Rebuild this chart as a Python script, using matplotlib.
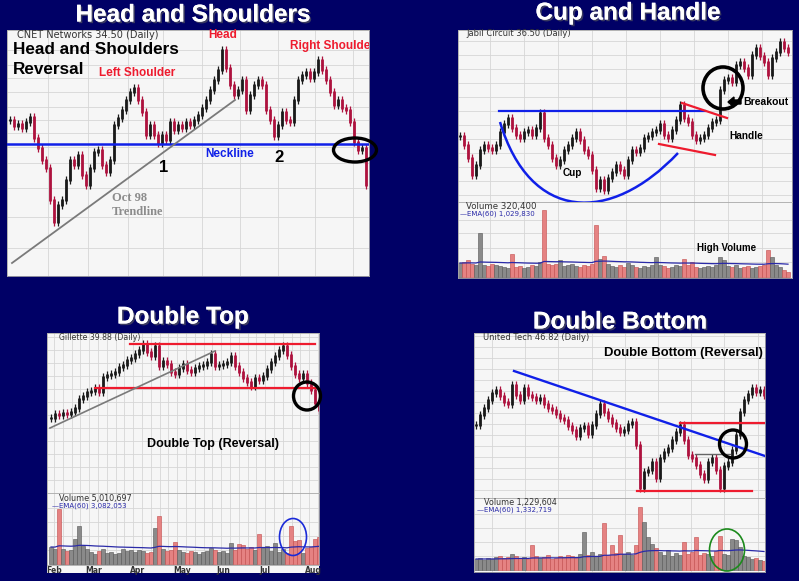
#!/usr/bin/env python3

"""
Four classic chart patterns on one navy slide:
head and shoulders, cup and handle, double top, double bottom.
Closes are price levels read off the stockcharts pictures, volume as bar heights.
"""

import numpy as np
import pandas as pd
import matplotlib
matplotlib.use("Agg")
import matplotlib.pyplot as plt
import matplotlib.patheffects as pe
from matplotlib.patches import Ellipse, PathPatch, FancyArrow, Rectangle
from matplotlib.path import Path

# ---------------- data ----------------
# Head and Shoulders (CNET)
hs_close = [160, 154, 156, 152, 158, 163, 142, 132, 120, 112,
            80, 58, 75, 80, 100, 120, 115, 125, 105, 95,
            112, 128, 130, 115, 108, 120, 155, 162, 170, 180,
            188, 192, 180, 168, 145, 155, 145, 137, 145, 140,
            158, 150, 155, 152, 158, 155, 160, 165, 172, 180,
            190, 200, 210, 230, 212, 195, 185, 190, 200, 170,
            185, 195, 200, 195, 170, 160, 144, 155, 168, 160,
            158, 180, 200, 205, 208, 202, 208, 220, 210, 200,
            188, 175, 180, 172, 170, 158, 138, 130, 132, 95]

# Cup and Handle (Jabil Circuit)
cup_close = [144, 135, 122, 105, 115, 130, 135, 132, 130, 135,
             148, 156, 162, 152, 145, 142, 148, 150, 145, 152,
             167, 142, 135, 122, 115, 120, 130, 135, 142, 148,
             140, 130, 125, 110, 92, 100, 90, 102, 108, 115,
             110, 105, 120, 130, 128, 132, 142, 144, 148, 150,
             156, 145, 142, 150, 160, 175, 162, 158, 145, 140,
             142, 145, 152, 158, 160, 190, 200, 202, 198, 215,
             218, 212, 205, 225, 232, 224, 218, 205, 222, 228,
             238, 232, 228]
cup_volume = [14, 15, 17, 13, 12, 44, 12, 11, 13, 12,
              11, 10, 9, 23, 10, 11, 9, 10, 12, 11,
              15, 67, 13, 12, 13, 17, 11, 12, 13, 11,
              10, 12, 11, 13, 52, 18, 21, 13, 11, 10,
              12, 10, 14, 12, 10, 9, 11, 10, 12, 20,
              12, 11, 9, 10, 12, 11, 18, 12, 15, 10,
              9, 10, 11, 10, 12, 20, 17, 11, 10, 12,
              9, 10, 11, 9, 10, 11, 12, 27, 20, 12,
              10, 7, 5]

# Double Top (Gillette)
dt_close = [162, 166, 165, 167, 166, 168, 172, 181, 184, 188,
            189, 192, 188, 203, 205, 206, 208, 213, 215, 220,
            222, 226, 230, 236, 228, 224, 234, 214, 219, 216,
            208, 206, 212, 216, 210, 208, 212, 214, 215, 218,
            226, 214, 215, 216, 218, 224, 214, 208, 202, 198,
            194, 202, 200, 204, 211, 218, 224, 230, 234, 225,
            214, 206, 202, 206, 197, 190, 177, 170]
dt_volume = [17, 15, 55, 15, 13, 14, 25, 38, 18, 15,
             12, 10, 13, 15, 11, 12, 10, 11, 15, 13,
             14, 12, 14, 13, 11, 12, 36, 48, 15, 13,
             14, 22, 14, 12, 11, 13, 12, 10, 12, 13,
             16, 14, 12, 13, 11, 21, 14, 20, 19, 15,
             17, 14, 30, 16, 18, 13, 21, 12, 15, 11,
             38, 23, 24, 11, 16, 17, 25, 27]
dt_months = ['Feb', 'Mar', 'Apr', 'May', 'Jun', 'Jul', 'Aug']
dt_month_pos = [0.75, 10.75, 21.75, 32.75, 43, 53.5, 65.5]

# Double Bottom (United Tech)
db_close = [155, 165, 172, 180, 187, 190, 184, 178, 176, 195,
            185, 180, 192, 185, 183, 180, 182, 176, 172, 170,
            166, 162, 160, 154, 150, 144, 152, 154, 146, 155,
            166, 176, 168, 162, 157, 152, 148, 150, 156, 158,
            135, 92, 108, 110, 118, 102, 122, 128, 132, 140,
            148, 155, 140, 125, 122, 115, 106, 101, 118, 122,
            110, 92, 114, 118, 130, 145, 168, 180, 186, 192,
            188, 190, 185]
db_volume = [11, 12, 10, 12, 11, 13, 14, 12, 13, 16,
             14, 12, 13, 11, 25, 14, 12, 13, 15, 11,
             12, 14, 13, 15, 14, 12, 16, 38, 15, 18,
             14, 16, 47, 15, 25, 17, 35, 16, 18, 15,
             25, 63, 48, 33, 26, 22, 18, 15, 20, 14,
             17, 15, 28, 16, 18, 33, 15, 17, 16, 14,
             19, 34, 16, 15, 31, 30, 23, 14, 13, 11,
             12, 10, 9]

# pattern lines, (bar index, level)
hs_neckline = 136
hs_trend_x, hs_trend_y = [0.5, 56.25], [17, 180]
cup_rim_x, cup_rim_y = [9.75, 61.25], [169, 169]
cup_curve_x, cup_curve_y = [10, 17.5, 37.5, 54.5], [158, 58, 55, 127]
handle_top_x, handle_top_y = [55.5, 66.75], [177, 162]
handle_bot_x, handle_bot_y = [49.75, 63.75], [136, 125]
dt_top_x, dt_top_y = [19.75, 66], [236, 236]
dt_sup_x, dt_sup_y = [11, 66.25], [192, 192]
dt_trend_x, dt_trend_y = [-0.25, 41], [152, 229]
db_trend_x, db_trend_y = [9.5, 72.25], [209, 124]
db_res_x, db_res_y = [51, 72.25], [157, 157]
db_sup_x, db_sup_y = [40.25, 69], [89, 89]
db_mid_x, db_mid_y = [54.75, 63.5], [126, 126]

# ---------------- style ----------------
W, H = 799, 581
NAVY = '#000066'
PANEL = '#F6F6F6'
GRID = '#D6D6D6'
UP, DOWN = '#1a1a1a', '#AE123E'
RED = '#EE1B2E'
BLUE = '#1020E8'
SANS = 'Liberation Sans'

fig = plt.figure(figsize=(W / 100, H / 100), dpi=100)
fig.patch.set_facecolor(NAVY)


def box(x0, y0, x1, y1):
    ax = fig.add_axes([x0 / W, 1 - y1 / H, (x1 - x0) / W, (y1 - y0) / H])
    ax.set_facecolor(PANEL)
    ax.set_xticks([])
    ax.set_yticks([])
    for s in ax.spines.values():
        s.set_color('#a8a8a8')
        s.set_linewidth(0.6)
    return ax


def grid(ax, xs, ys):
    for x in xs:
        ax.axvline(x, color=GRID, lw=0.6, zorder=0)
    for y in ys:
        ax.axhline(y, color=GRID, lw=0.6, zorder=0)


def label(s, x, y, size, color='black', ax=None, **kw):
    kw.setdefault('fontfamily', SANS)
    kw.setdefault('fontweight', 'bold')
    kw.setdefault('va', 'center')
    tgt = ax if ax is not None else fig
    return tgt.text(x / W, 1 - y / H, s, transform=fig.transFigure,
                    fontsize=size, color=color, **kw)


def small(s, x, y, size, color='#333333'):
    return label(s, x, y, size, color, fontfamily='DejaVu Sans', fontweight='normal')


def title(s, x, y):
    label(s, x, y, 17.5, 'white', ha='center',
          path_effects=[pe.withSimplePatchShadow(offset=(1.2, -1.2), shadow_rgbFace='#3a3a60', alpha=1),
                        pe.Normal()])


def draw_bars(ax, closes, pad=4):
    c = np.asarray(closes, float)
    prev = np.r_[c[0], c[:-1]]
    up = c >= prev
    cols = np.where(up, UP, DOWN)
    idx = np.arange(len(c))
    lo, hi = np.minimum(prev, c), np.maximum(prev, c)
    ax.vlines(idx, lo - pad, hi + pad, colors=cols, lw=0.9)
    ax.vlines(idx, lo - 1, hi + 1, colors=cols, lw=2.0)
    return up


def draw_volume(ax, vol, up):
    idx = np.arange(len(vol))
    ax.bar(idx, vol, width=0.8, color=np.where(up, '#8a8a8a', '#E58282'),
           edgecolor=np.where(up, '#555555', '#C24A4A'), linewidth=0.4)
    ema = pd.Series(vol, dtype=float).ewm(span=60, adjust=False).mean()
    ax.plot(idx, ema, color='#2a2aa8', lw=0.9)


def ring(ax, cx, cy, w, h, color='black', lw=2.4):
    ax.add_patch(Ellipse((cx, cy), w, h, fill=False, ec=color, lw=lw, clip_on=False, zorder=5))


# ---------------- Head and Shoulders ----------------
title('Head and Shoulders', 193, 15)
ax = box(7, 30, 369, 276)
ax.set_xlim(-0.75, 89.75)
ax.set_ylim(4, 250)
grid(ax, [9.5, 19.5, 29.5, 38.25, 48, 57.5, 67, 76.25, 85.75],
     [32, 63, 92, 117, 133, 147, 160, 173, 188, 202, 215, 230])
draw_bars(ax, hs_close)
ax.axhline(hs_neckline, color=BLUE, lw=1.8, zorder=4)
ax.plot(hs_trend_x, hs_trend_y, color='#7a7a7a', lw=1.3, zorder=4)
ring(ax, 86.25, 130, 10.75, 24)

small('CNET Networks 34.50 (Daily)', 17, 35, 7)
label('Head and Shoulders', 13, 49, 12.3)
label('Reversal', 13, 70, 12.3)
label('Head', 223, 35, 8.5, RED, ha='center')
label('Left Shoulder', 137, 73, 8.5, RED, ha='center')
label('Right Shoulder', 290, 46, 8.5, RED, ax=ax, clip_on=True)
label('Neckline', 230, 154, 8.5, BLUE, ha='center')
label('1', 164, 167, 12, ha='center')
label('2', 279, 157, 12, ha='center')
label('Oct 98', 112, 198, 9, '#8c8c8c', fontfamily='Liberation Serif')
label('Trendline', 112, 212, 9, '#8c8c8c', fontfamily='Liberation Serif')

# ---------------- Cup and Handle ----------------
title('Cup and Handle', 628, 13)
ax = box(458, 30, 792, 202)
ax.set_xlim(-0.5, 83)
ax.set_ylim(78, 250)
grid(ax, [7.5, 16, 24.5, 33, 41.5, 50, 58.5, 67, 75.5],
     [85, 99, 113, 127, 141, 155, 169, 183, 197, 211, 225, 239])
up = draw_bars(ax, cup_close)
ax.plot(cup_rim_x, cup_rim_y, color=BLUE, lw=1.6, zorder=4)
ax.add_patch(PathPatch(Path(list(zip(cup_curve_x, cup_curve_y)),
                            [Path.MOVETO, Path.CURVE4, Path.CURVE4, Path.CURVE4]),
                       fill=False, ec=BLUE, lw=1.8, clip_on=False, zorder=4))
ax.plot(handle_top_x, handle_top_y, color=RED, lw=1.6, zorder=4)
ax.plot(handle_bot_x, handle_bot_y, color=RED, lw=1.6, zorder=4)
ring(ax, 65.75, 192, 10, 42, lw=2.6)

axv = box(458, 202, 792, 278)
axv.set_xlim(-0.5, 83)
axv.set_ylim(-1, 75)
grid(axv, [7.5, 16, 24.5, 33, 41.5, 50, 58.5, 67, 75.5], [15, 29, 44, 57])
draw_volume(axv, cup_volume, up)

small('Jabil Circuit 36.50 (Daily)', 466, 34, 6)
label('Cup', 572, 173, 7.2, ha='center')
label('Handle', 729, 136, 7.3)
label('Breakout', 743, 102, 7.5)
fig.add_artist(FancyArrow(741 / W, 1 - 102 / H, -13 / W, 0, width=4 / H, head_width=10 / H,
                          head_length=6 / W, length_includes_head=True,
                          transform=fig.transFigure, color='black'))
small('Volume 320,400', 466, 207, 6.2)
small('\u2014EMA(60) 1,029,830', 460, 214, 5, '#2a2aa8')
label('High Volume', 697, 248, 7)

# ---------------- Double Top ----------------
title('Double Top', 183, 317)
fig.add_artist(Rectangle((47 / W, 1 - 573 / H), 272 / W, 240 / H, transform=fig.transFigure,
                         facecolor=PANEL, edgecolor='none', zorder=0))
ax = box(47, 333, 319, 493)
ax.set_xlim(-1, 67)
ax.set_ylim(87, 247)
weeks = np.arange(0.75, 67, 2.2)
grid(ax, weeks, [100, 113, 126, 139, 152, 165, 178, 191, 204, 217, 230, 243])
up = draw_bars(ax, dt_close)
ax.plot(dt_top_x, dt_top_y, color=RED, lw=1.6, zorder=4)
ax.plot(dt_sup_x, dt_sup_y, color=RED, lw=1.6, zorder=4)
ax.plot(dt_trend_x, dt_trend_y, color='#7a7a7a', lw=1.2, zorder=4)
ring(ax, 64, 184, 6.75, 28)

axv = box(47, 493, 319, 565)
axv.set_xlim(-1, 67)
axv.set_ylim(-1, 71)
grid(axv, weeks, [14, 28, 42, 56])
draw_volume(axv, dt_volume, up)
ring(axv, 60.5, 27, 6.75, 37, color='#1a2ad8', lw=1.2)
axv.set_xticks(dt_month_pos)
axv.set_xticklabels(dt_months, fontsize=5.5, color='#333333', fontweight='bold', fontfamily='DejaVu Sans')
axv.tick_params(length=0, pad=1)

small('Gillette 39.88 (Daily)', 59, 338, 5.6)
label('Double Top (Reversal)', 213, 444, 9, ha='center')
small('Volume 5,010,697', 59, 499, 5.8)
small('\u2014EMA(60) 3,082,053', 52, 506, 5, '#2a2aa8')

# ---------------- Double Bottom ----------------
title('Double Bottom', 620, 322)
ax = box(474, 333, 765, 498)
ax.set_xlim(-0.5, 72.25)
ax.set_ylim(82, 247)
gx = np.arange(4, 73, 8.3)
grid(ax, gx, np.arange(90, 247, 11))
up = draw_bars(ax, db_close)
ax.plot(db_trend_x, db_trend_y, color=BLUE, lw=1.7, zorder=4)
ax.plot(db_res_x, db_res_y, color=RED, lw=1.6, zorder=4)
ax.plot(db_sup_x, db_sup_y, color=RED, lw=1.6, zorder=4)
ax.plot(db_mid_x, db_mid_y, color='#666666', lw=1.0, zorder=4)
ring(ax, 64.25, 136, 6.75, 28)

axv = box(474, 498, 765, 572)
axv.set_xlim(-0.5, 72.25)
axv.set_ylim(-2, 72)
grid(axv, gx, [14, 28, 42, 56])
draw_volume(axv, db_volume, up)
ring(axv, 62.75, 20, 8.75, 42, color='#1c8a1c', lw=1.2)

small('United Tech 46.82 (Daily)', 483, 338, 6)
label('Double Bottom (Reversal)', 763, 353, 9.4, ha='right')
small('Volume 1,229,604', 484, 503, 5.8)
small('\u2014EMA(60) 1,332,719', 477, 510, 5, '#2a2aa8')

fig.savefig('out.png', dpi=100, facecolor=NAVY)
